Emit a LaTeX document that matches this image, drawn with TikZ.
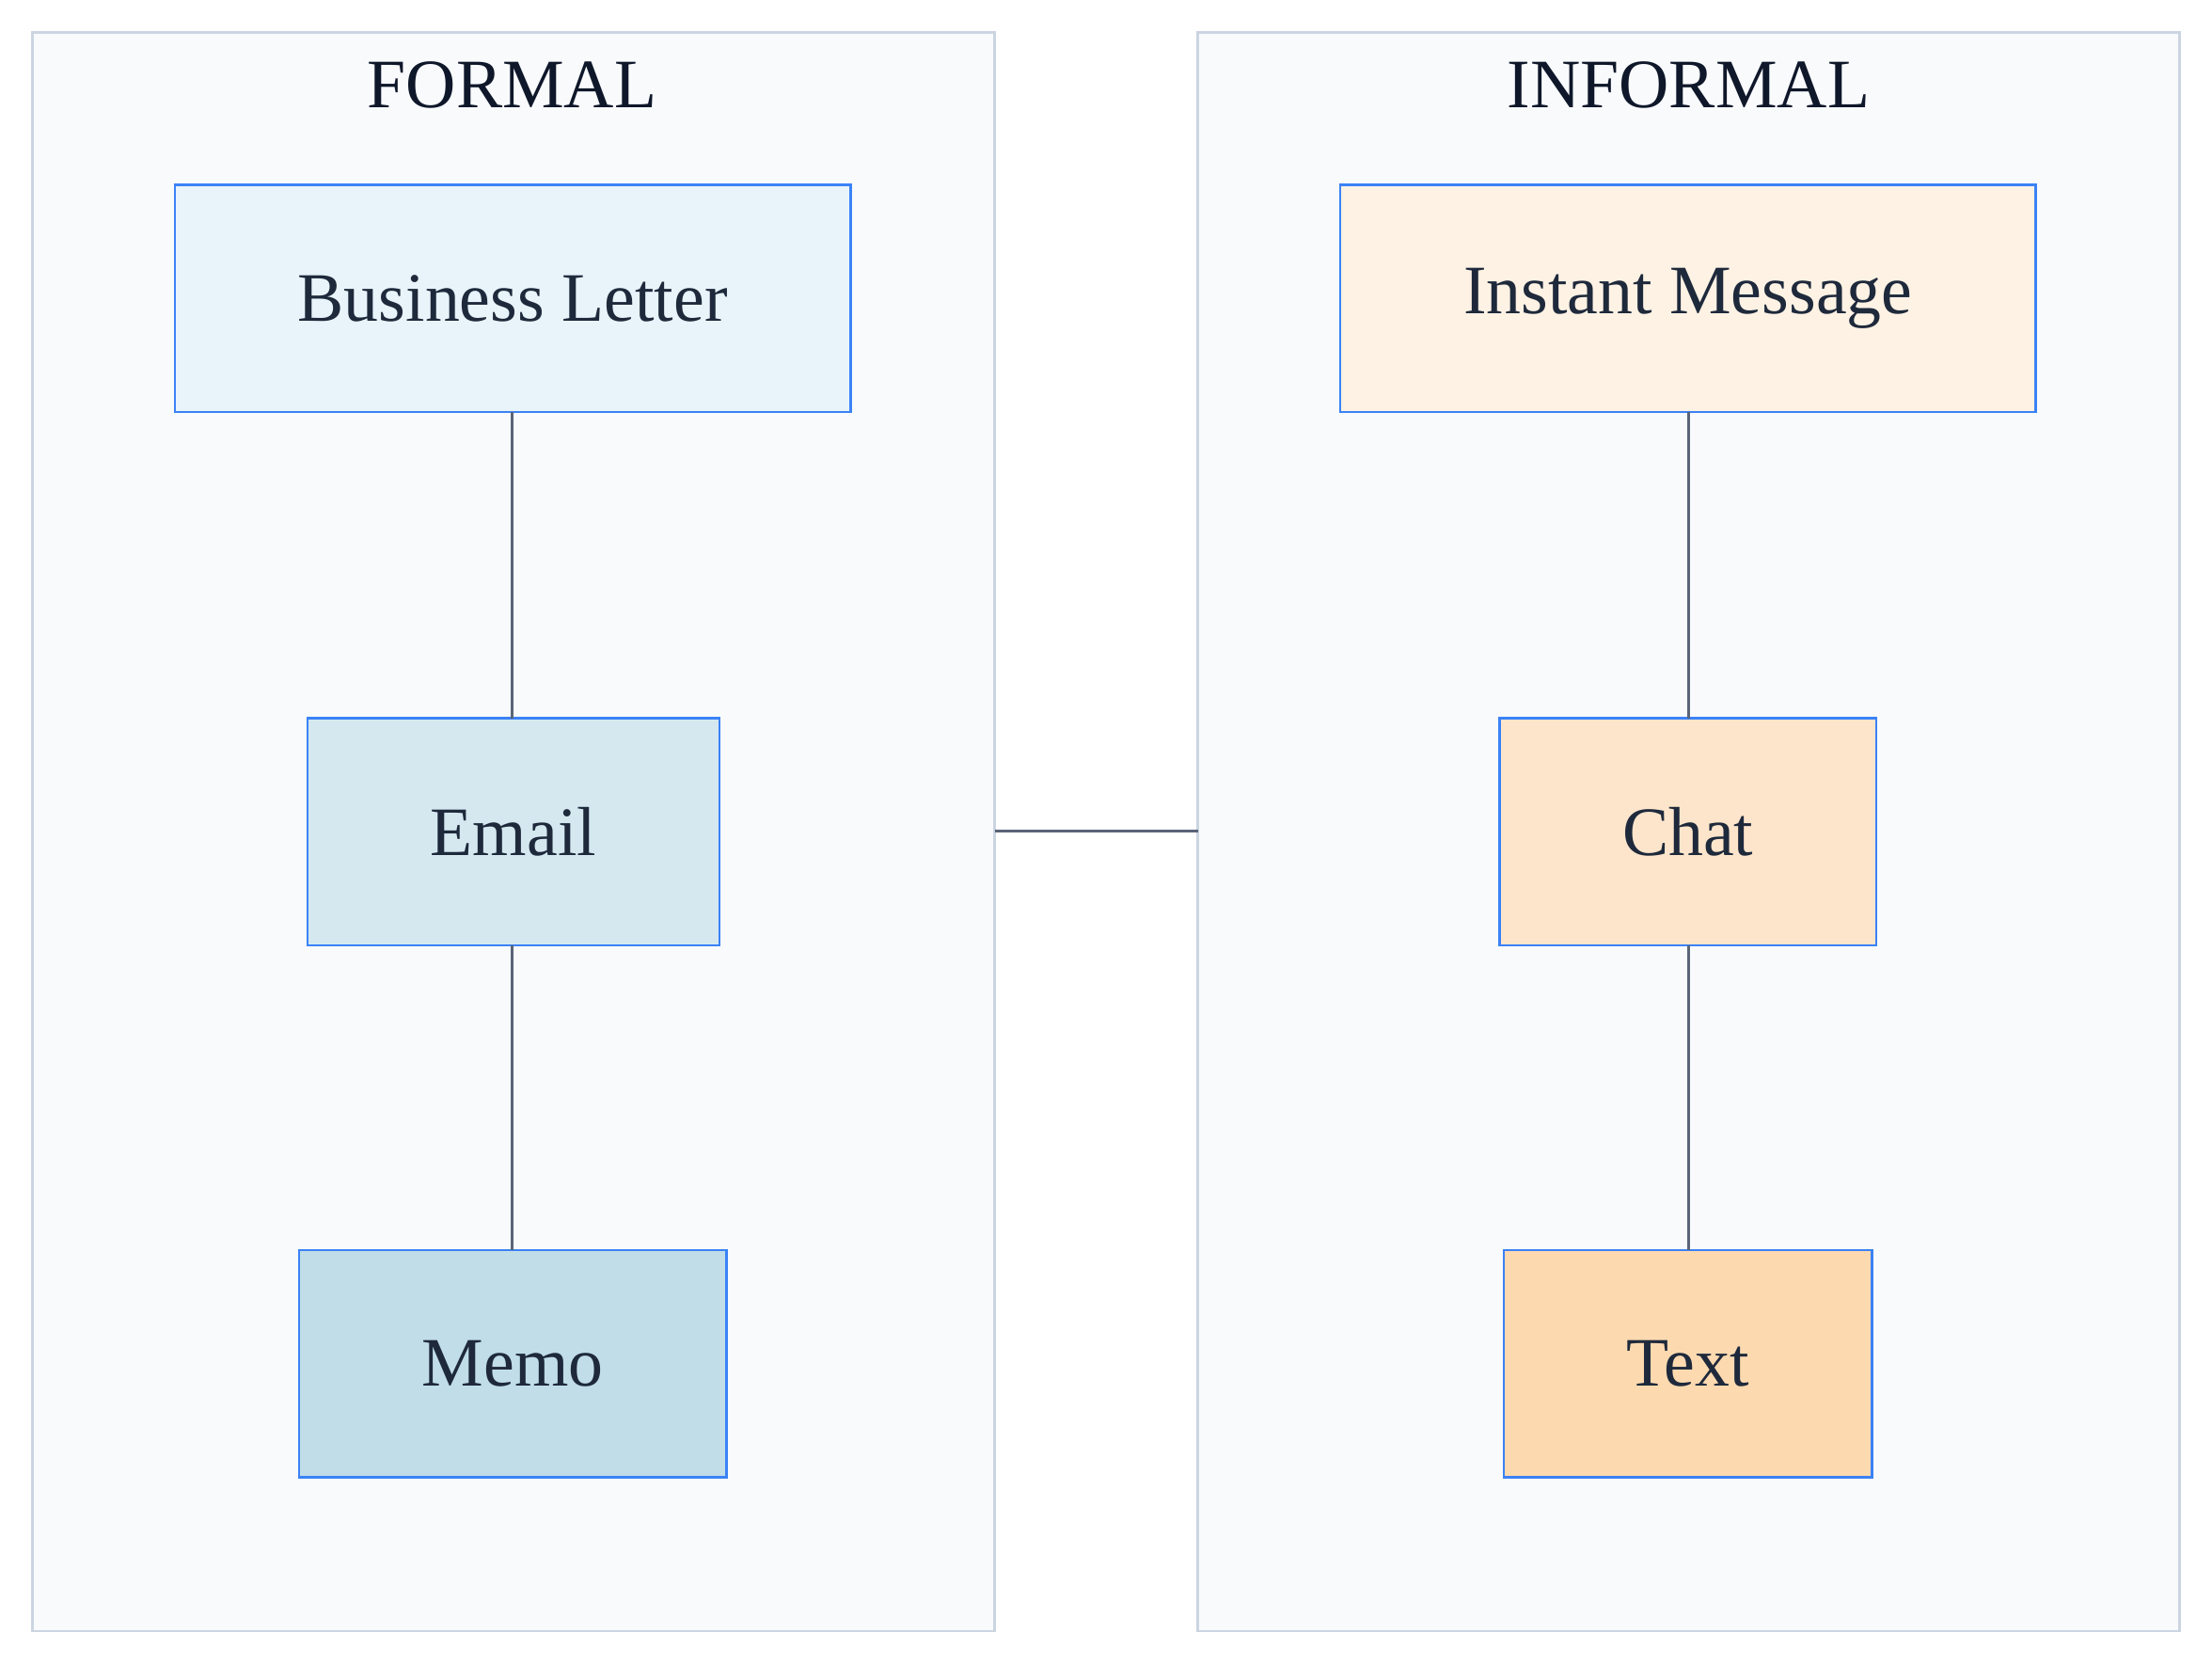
\documentclass[tikz,border=0pt]{standalone}
\usepackage{fontspec}
\setmainfont{Liberation Serif}
\begin{document}
\begin{tikzpicture}[x=0.02cm,y=-0.02cm,
  cluster/.style={draw=clborder,fill=clfill,line width=1.1pt},
  box/.style={draw=boxborder,line width=1.1pt},
  lbl/.style={font=\fontsize{28}{32}\selectfont,text=txt},
  ttl/.style={font=\fontsize{28}{32}\selectfont,text=ttlc},
  conn/.style={draw=lnc,line width=1.1pt}]
\definecolor{clborder}{HTML}{CBD5E1}
\definecolor{clfill}{HTML}{F8FAFC}
\definecolor{boxborder}{HTML}{3B82F6}
\definecolor{txt}{HTML}{1E293B}
\definecolor{ttlc}{HTML}{0F172A}
\definecolor{lnc}{HTML}{5A6478}
\useasboundingbox[fill=white] (0,0) rectangle (1568,1179);
\draw[cluster] (23,23) rectangle (705,1156);
\draw[cluster] (849,23) rectangle (1545,1156);
\node[ttl] (tf) at (363,60) {FORMAL};
\node[ttl] (ti) at (1197,60) {INFORMAL};
\coordinate (fr) at (705,589);
\coordinate (il) at (849,589);
\definecolor{c1}{HTML}{E8F3FA}\definecolor{c2}{HTML}{D5E8F0}\definecolor{c3}{HTML}{C0DDE8}
\definecolor{d1}{HTML}{FEF2E4}\definecolor{d2}{HTML}{FDE5CB}\definecolor{d3}{HTML}{FDD9B0}
\path[box,fill=c1] (124,131) rectangle (603,292) node[midway,lbl] (bl) {Business Letter};
\path[box,fill=c2] (218,509) rectangle (510,670) node[midway,lbl] (em) {Email};
\path[box,fill=c3] (212,886) rectangle (515,1047) node[midway,lbl] (me) {Memo};
\path[box,fill=d1] (950,131) rectangle (1443,292) node[midway,lbl] (im) {Instant Message};
\path[box,fill=d2] (1063,509) rectangle (1330,670) node[midway,lbl] (ch) {Chat};
\path[box,fill=d3] (1066,886) rectangle (1327,1047) node[midway,lbl] (tx) {Text};
\coordinate (a1) at (363,292);\coordinate (a2) at (363,509);
\coordinate (a3) at (363,670);\coordinate (a4) at (363,886);
\coordinate (b1) at (1197,292);\coordinate (b2) at (1197,509);
\coordinate (b3) at (1197,670);\coordinate (b4) at (1197,886);
\draw[conn] (a1) -- (a2);
\draw[conn] (a3) -- (a4);
\draw[conn] (b1) -- (b2);
\draw[conn] (b3) -- (b4);
\draw[conn] (fr) -- (il);
\end{tikzpicture}
\end{document}
